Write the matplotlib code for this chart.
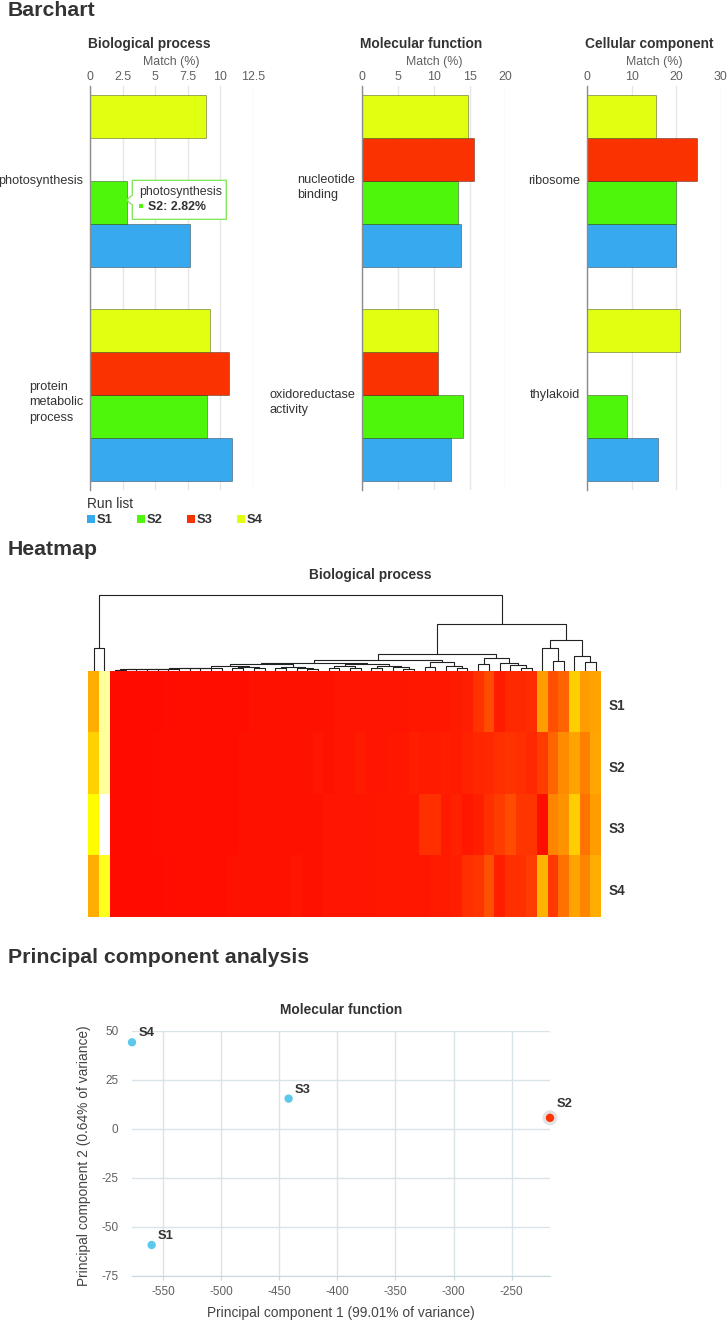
import numpy as np
import matplotlib
matplotlib.use("Agg")
import matplotlib.pyplot as plt
from matplotlib.colors import LinearSegmentedColormap
from matplotlib.patches import Rectangle, Polygon
from matplotlib import transforms as mtransforms

plt.rcParams['font.family'] = ['Liberation Sans', 'DejaVu Sans']

# ---------------- DATA ----------------
series_names = ['S1', 'S2', 'S3', 'S4']
series_colors = ['#36A9EF', '#4DF60A', '#FA3200', '#E1FF11']

bp_categories = ['photosynthesis', 'protein\nmetabolic\nprocess']
bp_S1 = [7.64, 10.90]
bp_S2 = [2.82, 8.94]
bp_S3 = [np.nan, 10.63]
bp_S4 = [8.87, 9.22]
bp_ticks = [0, 2.5, 5, 7.5, 10, 12.5]

mf_categories = ['nucleotide\nbinding', 'oxidoreductase\nactivity']
mf_S1 = [13.80, 12.36]
mf_S2 = [13.34, 14.13]
mf_S3 = [15.62, 10.63]
mf_S4 = [14.83, 10.63]
mf_ticks = [0, 5, 10, 15, 20]

cc_categories = ['ribosome', 'thylakoid']
cc_S1 = [19.9, 15.8]
cc_S2 = [19.9, 9.0]
cc_S3 = [24.6, np.nan]
cc_S4 = [15.54, 20.9]
cc_ticks = [0, 10, 20, 30]

# heatmap (0 = red ... 1 = white), 48 GO terms in dendrogram order
heat_rows = ['S1', 'S2', 'S3', 'S4']
heat_S1 = [0.50, 0.90,
           0.01, 0.01, 0.01, 0.01, 0.01, 0.02, 0.02, 0.02, 0.02, 0.02,
           0.02, 0.02, 0.02, 0.03, 0.03, 0.03, 0.03, 0.03, 0.03, 0.03,
           0.03, 0.04, 0.04, 0.04, 0.04, 0.04, 0.04, 0.04, 0.05, 0.05,
           0.05, 0.05, 0.06, 0.07,
           0.13, 0.21, 0.06, 0.10, 0.10, 0.11, 0.45, 0.22, 0.28, 0.60, 0.45, 0.47]
heat_S2 = [0.61, 0.90,
           0.01, 0.01, 0.01, 0.01, 0.02, 0.02, 0.02, 0.02, 0.02, 0.02,
           0.02, 0.02, 0.03, 0.03, 0.03, 0.03, 0.03, 0.03, 0.03, 0.04,
           0.03, 0.04, 0.04, 0.06, 0.04, 0.04, 0.05, 0.05, 0.07, 0.06,
           0.06, 0.07, 0.06, 0.08,
           0.09, 0.10, 0.12, 0.13, 0.12, 0.10, 0.16, 0.28, 0.40, 0.47, 0.36, 0.48]
heat_S3 = [0.74, 1.00,
           0.01, 0.01, 0.01, 0.01, 0.02, 0.02, 0.02, 0.02, 0.02, 0.02,
           0.02, 0.02, 0.03, 0.03, 0.03, 0.03, 0.03, 0.03, 0.03, 0.03,
           0.04, 0.04, 0.04, 0.04, 0.04, 0.05, 0.05, 0.05, 0.05, 0.12,
           0.12, 0.06, 0.08, 0.05,
           0.07, 0.12, 0.16, 0.21, 0.14, 0.14, 0.02, 0.38, 0.42, 0.60, 0.33, 0.45]
heat_S4 = [0.50, 0.78,
           0.01, 0.01, 0.01, 0.01, 0.01, 0.02, 0.02, 0.02, 0.02, 0.02,
           0.02, 0.03, 0.03, 0.03, 0.03, 0.03, 0.03, 0.04, 0.03, 0.03,
           0.04, 0.04, 0.04, 0.04, 0.04, 0.05, 0.05, 0.05, 0.05, 0.05,
           0.06, 0.06, 0.07, 0.12,
           0.14, 0.22, 0.07, 0.12, 0.12, 0.16, 0.52, 0.15, 0.32, 0.47, 0.38, 0.50]

# dendrogram: [left, right, height]; leaves are column indices
red_left = [[[[[[[[[[2, 3, 1.2], 4, 1.6], 5, 1.9], 6, 2.1], 7, 2.3], 8, 2.5], 9, 2.7], 10, 2.9], 11, 3.0], 12, 3.2]
g2 = [[13, 14, 2.6], [15, 16, 2.8], 4.3]
g3 = [[17, 18, 3.0], [19, [20, 21, 2.4], 3.3], 4.5]
g4 = [[22, 23, 3.5], [24, 25, 2.8], 5.5]
g5 = [[26, 27, 3.1], [28, [29, 30, 2.2], 3.6], 5.0]
clA = [[[red_left, g2, 5.2], g3, 6.7], [g4, g5, 7.0], 8.5]
clB = [[31, 32, 4.0], [33, [34, 35, 3.0], 4.8], 9.0]
cl_mid = [[36, 37, 6.7], [38, [39, [40, 41, 3.3], 5.7], 7.7], 13.3]
cl_right = [[42, [43, 44, 10.0], 23.3], [45, [46, 47, 9.3], 15.0], 31.0]
dendro_tree = [[0, 1, 23.3], [[[clA, clB, 11.0], cl_mid, 16.7], cl_right, 46.7], 76.0]

# PCA
pca_labels = ['S1', 'S2', 'S3', 'S4']
pca_pc1 = [-559.7, -217.0, -441.9, -576.6]
pca_pc2 = [-59.2, 5.6, 15.4, 44.1]
pca_colors = ['#5BC8EC', '#FF3300', '#5BC8EC', '#5BC8EC']
pca_highlight = [False, True, False, False]
pca_xticks = [-550, -500, -450, -400, -350, -300, -250]
pca_yticks = [-75, -50, -25, 0, 25, 50]

# ---------------- FIGURE ----------------
W, H, DPI = 727, 1322, 100
fig = plt.figure(figsize=(W / DPI, H / DPI), dpi=DPI)
fig.patch.set_facecolor('white')


def pt(px):
    return px * 72.0 / DPI


def add_ax(l, t, r, b):
    return fig.add_axes([l / W, 1 - b / H, (r - l) / W, (b - t) / H])


def ftext(x, y, s, **kw):
    return fig.text(x / W, 1 - y / H, s, **kw)


DARK = '#333333'
GREY = '#606060'

# section titles
ftext(8, 15.5, 'Barchart', fontsize=pt(21.3), fontweight='bold', color=DARK, va='baseline')
ftext(8, 555, 'Heatmap', fontsize=pt(21.3), fontweight='bold', color=DARK, va='baseline')
ftext(8, 963, 'Principal component analysis', fontsize=pt(21.3), fontweight='bold', color=DARK, va='baseline')

# ---------------- BAR CHARTS ----------------
panels = [
    dict(title='Biological process', cats=bp_categories, vals=[bp_S1, bp_S2, bp_S3, bp_S4],
         ticks=bp_ticks, l=90, r=253),
    dict(title='Molecular function', cats=mf_categories, vals=[mf_S1, mf_S2, mf_S3, mf_S4],
         ticks=mf_ticks, l=362.3, r=505.3),
    dict(title='Cellular component', cats=cc_categories, vals=[cc_S1, cc_S2, cc_S3, cc_S4],
         ticks=cc_ticks, l=587.3, r=720.7),
]
bar_offsets = [0.3, 0.1, -0.1, -0.3]
bar_h = 0.2
top_px, bot_px = 86, 490
bar_axes = []
for p in panels:
    ax = add_ax(p['l'], top_px, p['r'], bot_px)
    bar_axes.append(ax)
    ax.set_xlim(p['ticks'][0], p['ticks'][-1])
    ax.set_ylim(len(p['cats']) - 1 + 0.44, -0.44)
    for vals, col, off in zip(p['vals'], series_colors, bar_offsets):
        ys = [i + off for i, v in enumerate(vals) if not np.isnan(v)]
        xs = [v for v in vals if not np.isnan(v)]
        ax.barh(ys, xs, height=bar_h, color=col, edgecolor=(0, 0, 0, 0.35), linewidth=0.7, zorder=3)
    ax.set_xticks(p['ticks'])
    ax.set_xticklabels([f'{t:g}' for t in p['ticks']])
    ax.xaxis.tick_top()
    ax.tick_params(axis='x', length=0, pad=pt(3.5), labelsize=pt(12.4), labelcolor=GREY)
    ax.set_yticks([])
    ax.grid(axis='x', color='#e6e6e6', linewidth=1, zorder=0)
    for s in ['top', 'right', 'bottom']:
        ax.spines[s].set_visible(False)
    ax.spines['left'].set_color('#8c8c8c')
    ax.spines['left'].set_linewidth(1)
    ax.spines['left'].set_zorder(4)
    # category labels
    for i, c in enumerate(p['cats']):
        n = c.count('\n')
        tr = mtransforms.offset_copy(ax.get_yaxis_transform(), fig=fig, x=-7,
                                     y=(-7 if n else 0), units='dots')
        ax.text(0, i, c, transform=tr, ha='right', va='center', multialignment='left',
                fontsize=pt(12.6), color=DARK, linespacing=1.4)
    ftext(p['l'] - 2, 48.3, p['title'], fontsize=pt(13.7), fontweight='bold', color=DARK,
          ha='left', va='baseline')
    ftext((p['l'] + p['r']) / 2, 65, 'Match (%)', fontsize=pt(12.4), color=GREY,
          ha='center', va='baseline')

# legend
ftext(86.7, 508, 'Run list', fontsize=pt(13.7), color=DARK, va='baseline')
for k, (nm, col) in enumerate(zip(series_names, series_colors)):
    x0 = 87 + 50 * k
    fig.add_artist(Rectangle((x0 / W, 1 - 523 / H), 8 / W, 8 / H, transform=fig.transFigure,
                             facecolor=col, edgecolor='none'))
    ftext(x0 + 9.7, 523.3, nm, fontsize=pt(13), fontweight='bold', color=DARK, va='baseline')

# tooltip on S2 photosynthesis bar
ax0 = bar_axes[0]
ax_x, ax_y_disp = ax0.transData.transform((bp_S2[0], 0 + bar_offsets[1]))
ax_y = H - ax_y_disp
L = ax_x + 5.5
R = L + 94
T = ax_y - 21.7
B = T + 39
tip_y = ax_y - 2
verts_px = [(L, T), (R, T), (R, B), (L, B), (L, tip_y + 5), (ax_x, tip_y), (L, tip_y - 5)]
verts = [(x, H - y) for x, y in verts_px]
fig.add_artist(Polygon(verts, closed=True, transform=mtransforms.IdentityTransform(),
                       facecolor='white', edgecolor='#84E85A', linewidth=1.0, zorder=10))
ftext(L + 6.5, T + 14.7, bp_categories[0], fontsize=pt(12.4), color=DARK, va='baseline', zorder=11)
fig.add_artist(Rectangle(((L + 7) / W, 1 - (T + 28) / H), 4 / W, 4 / H, transform=fig.transFigure,
                         facecolor=series_colors[1], edgecolor='none', zorder=11))
ftext(L + 15.7, T + 29.7, f'S2: {bp_S2[0]:.2f}%', fontsize=pt(12.4), fontweight='bold', color=DARK,
      va='baseline', zorder=11)

# ---------------- HEATMAP ----------------
hm_l, hm_r, hm_t, hm_b = 88.3, 601, 671, 916.7
dax = add_ax(hm_l, 595, hm_r, hm_t)
hax = add_ax(hm_l, hm_t, hm_r, hm_b)

heat = np.array([heat_S1, heat_S2, heat_S3, heat_S4])
ncol = heat.shape[1]
cmap = LinearSegmentedColormap.from_list('heat', [(0.0, '#FF0800'), (0.75, '#FFFF00'), (1.0, '#FFFFFF')])
hax.pcolormesh(np.arange(ncol + 1), np.arange(len(heat_rows) + 1), heat, cmap=cmap, vmin=0, vmax=1)
hax.set_xlim(0, ncol)
hax.set_ylim(len(heat_rows), 0)
hax.axis('off')
for i, nm in enumerate(heat_rows):
    tr = mtransforms.offset_copy(hax.transData, fig=fig, x=8, y=-4.6, units='dots')
    hax.text(ncol, i + 0.5, nm, transform=tr, ha='left', va='center', fontsize=pt(13.5),
             fontweight='bold', color=DARK)

root_h = dendro_tree[2]


def draw_node(node):
    if isinstance(node, int):
        return node + 0.5, 0.0
    left, right, h = node
    xl, hl = draw_node(left)
    xr, hr = draw_node(right)
    dax.plot([xl, xl, xr, xr], [hl, h, h, hr], color='#222222', linewidth=0.8,
             solid_capstyle='butt', clip_on=False)
    return (xl + xr) / 2.0, h


draw_node(dendro_tree)
dax.set_xlim(0, ncol)
dax.set_ylim(0, root_h)
dax.axis('off')
ftext(370, 579.3, 'Biological process', fontsize=pt(13.7), fontweight='bold', color=DARK,
      ha='center', va='baseline')

# ---------------- PCA ----------------
pax = add_ax(132, 1030.7, 550, 1276)
pax.set_xlim(min(pca_pc1), max(pca_pc1))
pax.set_ylim(pca_yticks[0], pca_yticks[-1])
pax.set_xticks(pca_xticks)
pax.set_yticks(pca_yticks)
pax.set_xticklabels([str(t) for t in pca_xticks])
pax.set_yticklabels([str(t) for t in pca_yticks])
pax.grid(True, color='#d9e3e8', linewidth=1, zorder=0)
for s in ['top', 'right', 'left']:
    pax.spines[s].set_visible(False)
pax.spines['bottom'].set_color('#c9d7df')
pax.tick_params(axis='x', length=pt(4), color='#c9d7df', pad=pt(6), labelsize=pt(11.8), labelcolor=GREY)
pax.tick_params(axis='y', length=0, pad=pt(13.5), labelsize=pt(11.8), labelcolor=GREY)
for x, y, c, hl, lab in zip(pca_pc1, pca_pc2, pca_colors, pca_highlight, pca_labels):
    if hl:
        pax.scatter([x], [y], s=115, color='#cfcfcf', alpha=0.6, edgecolors='none', zorder=4, clip_on=False)
    pax.scatter([x], [y], s=36, color=c, edgecolors='none', zorder=5, clip_on=False)
    dy = 11 if hl else 5.8
    pax.annotate(lab, (x, y), xytext=(pt(6.5), pt(dy)), textcoords='offset points',
                 ha='left', va='baseline', fontsize=pt(13), fontweight='bold', color=DARK, zorder=6)

ftext(341, 1014.3, 'Molecular function', fontsize=pt(13.8), fontweight='bold', color=DARK,
      ha='center', va='baseline')
ftext(341, 1313, 'Principal component 1 (99.01% of variance)', fontsize=pt(13.7), color='#444444',
      ha='center', va='center')
ftext(84, 1156, 'Principal component 2 (0.64% of variance)', fontsize=pt(13.7), color='#444444',
      ha='center', va='center', rotation=90)

fig.savefig('out.png', dpi=DPI, facecolor='white')
